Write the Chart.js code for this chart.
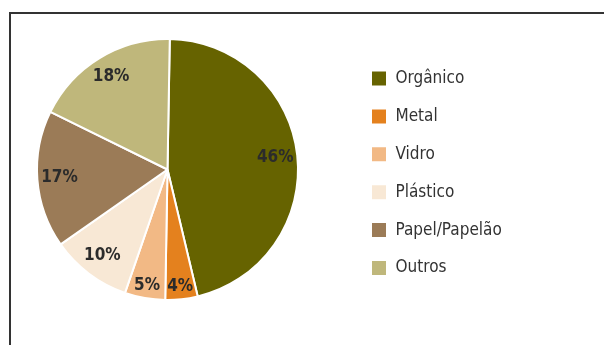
<!DOCTYPE html>
<html>
<head>
<meta charset="utf-8">
<script src="https://cdn.jsdelivr.net/npm/chart.js@4"></script>
<style>
  html, body { margin: 0; padding: 0; background: #fff; }
  #wrap { position: relative; width: 604px; height: 345px; overflow: hidden; }
  #frame { position: absolute; left: 9px; top: 12px; width: 700px; height: 400px;
           border-top: 2px solid #333; border-left: 2px solid #333; }
  canvas { position: absolute; left: 0; top: 0; }
</style>
</head>
<body>
<div id="wrap">
  <div id="frame"></div>
  <canvas id="c" width="604" height="345"></canvas>
</div>
<script>
const categories = ['Orgânico', 'Metal', 'Vidro', 'Plástico', 'Papel/Papelão', 'Outros'];
const values = [46, 4, 5, 10, 17, 18];
const colors = ['#666300', '#e4811e', '#f2b985', '#f8e8d5', '#9b7b57', '#bfb77b'];

const FONT = '"Liberation Sans Narrow", "DejaVu Sans Condensed", "Roboto Condensed", sans-serif';

const sliceLabels = {
  id: 'sliceLabels',
  afterDatasetsDraw(chart) {
    const ctx = chart.ctx;
    const meta = chart.getDatasetMeta(0);
    const data = chart.data.datasets[0].data;
    const total = data.reduce((a, b) => a + b, 0);
    ctx.save();
    ctx.font = 'bold 17px ' + FONT;
    ctx.fillStyle = '#2b2b2b';
    ctx.textAlign = 'center';
    ctx.textBaseline = 'middle';
    meta.data.forEach((arc, i) => {
      const p = arc.getProps(['x', 'y', 'startAngle', 'endAngle', 'outerRadius'], true);
      const pct = data[i] / total * 100;
      const mid = (p.startAngle + p.endAngle) / 2;
      const f = pct < 8 ? 0.9 : 0.83;
      const r = p.outerRadius * f;
      ctx.fillText(Math.round(pct) + '%', p.x + Math.cos(mid) * r, p.y + Math.sin(mid) * r);
    });
    ctx.restore();
  }
};

const legendPlace = {
  id: 'legendPlace',
  afterLayout(chart) {
    const lg = chart.legend;
    const pad = lg.options.labels.padding;
    const dx = 371 - (lg.left + pad);
    const dy = 70 - (lg.top + pad);
    lg.left += dx; lg.right += dx;
    lg.top += dy; lg.bottom += dy;
  }
};

new Chart(document.getElementById('c'), {
  type: 'pie',
  data: {
    labels: categories,
    datasets: [{
      data: values,
      backgroundColor: colors,
      borderColor: '#ffffff',
      borderWidth: 2
    }]
  },
  options: {
    responsive: false,
    animation: false,
    rotation: 1,
    layout: { padding: { left: 36, top: 38, bottom: 44, right: 305 } },
    plugins: {
      tooltip: { enabled: false },
      legend: {
        position: 'chartArea',
        align: 'start',
        labels: {
          boxWidth: 16,
          boxHeight: 16,
          padding: 20.9,
          color: '#333333',
          font: { family: FONT, size: 17 }
        }
      }
    }
  },
  plugins: [sliceLabels, legendPlace]
});
</script>
</body>
</html>
